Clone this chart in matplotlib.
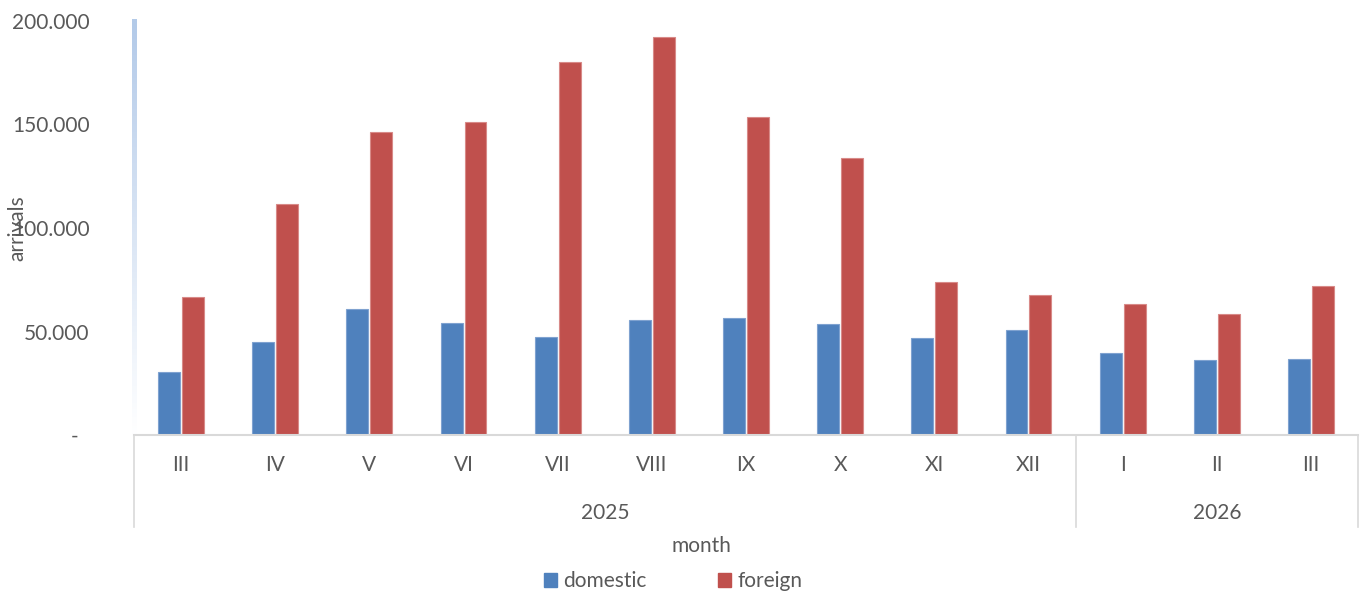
import matplotlib.pyplot as plt
import numpy as np
from matplotlib.collections import LineCollection
from matplotlib.patches import Patch

plt.rcParams['font.family'] = ['Lato', 'DejaVu Sans']

months = ["III", "IV", "V", "VI", "VII", "VIII", "IX", "X", "XI", "XII", "I", "II", "III"]
years = ["2025", "2026"]
year_len = [10, 3]
domestic = [30400, 45000, 60900, 54100, 47300, 55600, 56500, 53600, 46900, 50700, 39600, 36200, 36700]
foreign = [66700, 111600, 146400, 151200, 180200, 192300, 153600, 133800, 73900, 67600, 63300, 58500, 72000]

grey = "#595959"
blue = "#4F81BD"
red = "#C0504D"

W, H = 1360, 597
fig = plt.figure(figsize=(W / 100, H / 100), dpi=100)
ax = fig.add_axes([134 / W, (H - 435) / H, (1358 - 134) / W, 414 / H])

x = np.arange(len(months))
bw = 0.233
ax.bar(x - 0.127, domestic, bw, color=blue, edgecolor="#7FA2D0", linewidth=0.8)
ax.bar(x + 0.127, foreign, bw, color=red, edgecolor="#D88A88", linewidth=0.8)

ax.set_xlim(-0.5, len(months) - 0.5)
ax.set_ylim(0, 200000)
ax.set_yticks([0, 50000, 100000, 150000, 200000])
ax.set_yticklabels(["-  ", "50.000", "100.000", "150.000", "200.000"])
ax.tick_params(axis="y", length=0, pad=32, labelsize=15, labelcolor=grey)
ax.set_xticks([])
for s in ["top", "right", "left", "bottom"]:
    ax.spines[s].set_visible(False)

# gradient y axis line (light blue fading to white at the bottom)
ys = np.linspace(0, 200000, 200)
segs = [[(-0.5, ys[i]), (-0.5, ys[i + 1])] for i in range(len(ys) - 1)]
top = np.array([0.70, 0.79, 0.91])
cols = [tuple(top + (1 - top) * (1 - (ys[i] / 200000))) for i in range(len(ys) - 1)]
ax.add_collection(LineCollection(segs, colors=cols, linewidths=2.5, capstyle="projecting",
                                 clip_on=False, antialiased=False))

# category axis with years
tr = ax.get_xaxis_transform()
ax.plot([-0.5, len(months) - 0.5], [0, 0], transform=tr, color="#D9D9D9", lw=1.5, clip_on=False)
bounds = np.concatenate([[0], np.cumsum(year_len)]) - 0.5
for b in bounds:
    ax.plot([b, b], [0, -0.222], transform=tr, color="#D9D9D9", lw=1.2, clip_on=False)
for i, m in enumerate(months):
    ax.text(i, -0.0725, m, transform=tr, ha="center", va="center", fontsize=15, color=grey)
for j, yr in enumerate(years):
    ax.text((bounds[j] + bounds[j + 1]) / 2, -0.188, yr, transform=tr, ha="center", va="center",
            fontsize=15, color=grey)

fig.text(701 / W, 1 - 546 / H, "month", ha="center", va="center", fontsize=15, color=grey)
fig.text(17 / W, 1 - 228 / H, "arrivals", ha="center", va="center", rotation=90, fontsize=15, color=grey)

handles = [Patch(color=blue, label="domestic"), Patch(color=red, label="foreign")]
fig.legend(handles=handles, loc="center", bbox_to_anchor=(673 / W, 1 - 581 / H), ncol=2,
           frameon=False, fontsize=15, labelcolor=grey, handlelength=0.65, handleheight=0.65,
           handletextpad=0.3, columnspacing=3.4)

fig.savefig("out.png", dpi=100)
